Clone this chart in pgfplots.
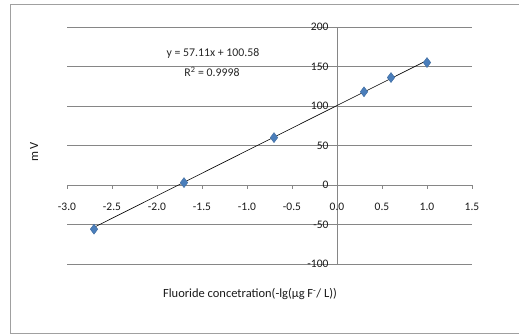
\documentclass[border=0pt]{standalone}
\usepackage{pgfplots}
\pgfplotsset{compat=1.18}
\usepackage{fontspec}
\setmainfont{Carlito}
\definecolor{gridc}{RGB}{134,134,134}
\definecolor{framec}{RGB}{160,160,160}
\definecolor{mk}{RGB}{74,126,187}
\begin{document}
\begin{tikzpicture}[x=1pt,y=1pt]
\useasboundingbox (0,0) rectangle (519,336);
\draw[color=framec, line width=0.9pt] (525,331.5) -- (10,331.5) -- (10,2.5) -- (525,2.5);
\begin{axis}[at={(67pt,72pt)}, anchor=south west, scale only axis,
  width=405pt, height=237pt,
  xmin=-3, xmax=1.5, ymin=-100, ymax=200,
  axis lines=middle, axis line style={-, gridc, line width=0.6pt},
  xtick={-3,-2.5,...,1.5}, ytick={-100,-50,...,200},
  hide obscured x ticks=false, hide obscured y ticks=false,
  ymajorgrids, grid style={gridc, line width=0.6pt},
  tick align=outside, major tick length=4pt, tick style={gridc, line width=0.6pt},
  /pgf/number format/assume math mode=true,
  xticklabel={\pgfmathprintnumber[fixed, fixed zerofill, precision=1]{\tick}},
  tick label style={font=\fontsize{11.5}{13}\selectfont, text=black!90},
  xticklabel style={yshift=-11pt},
  yticklabel style={xshift=-1pt},
  clip=false]
\addplot[black, line width=0.6pt] coordinates {(-2.7,-53.62) (1.0,157.69)};
\addplot[only marks, mark=diamond*, mark size=5pt, color=mk, mark options={draw=mk!85!black, line width=0.4pt}]
  coordinates {(-2.7,-56) (-1.7,3) (-0.7,60) (0.3,118) (0.6,136) (1.0,155)};
\end{axis}
\node[font=\fontsize{12.5}{14}\selectfont, text=black!90] at (250,42) {Fluoride concetration(-lg(µg F\textsuperscript{-}/ L))};
\node[font=\fontsize{12.5}{14}\selectfont, rotate=90, text=black!90] at (34,184) {m V};
\node[font=\fontsize{11.8}{13}\selectfont, text=black!85] at (213,283) {y = 57.11x + 100.58};
\node[font=\fontsize{11.8}{13}\selectfont, text=black!85] at (212,264) {R\textsuperscript{2} = 0.9998};
\end{tikzpicture}
\end{document}
